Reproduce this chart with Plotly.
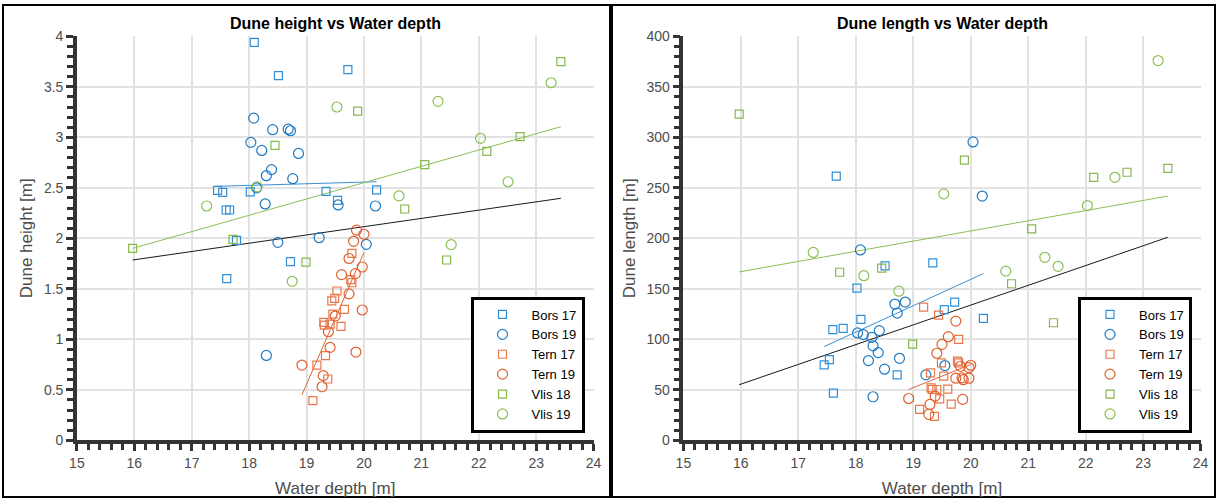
import plotly.graph_objects as go

# ---- survey data: water depth [m], dune height [m], dune length [m] ----
bors17_depth = [18.09, 18.51, 19.72, 17.45, 17.54, 18.02, 19.34, 19.54, 20.22, 17.60, 17.66, 17.78, 18.72, 17.61]
bors17_height = [3.94, 3.61, 3.67, 2.475, 2.455, 2.46, 2.465, 2.376, 2.48, 2.28, 2.28, 1.98, 1.77, 1.60]
bors17_length = [119.7, 172.7, 136.9, 74.7, 79.9, 150.7, 175.7, 129.3, 120.7, 109.5, 261.5, 110.8, 64.8, 46.7]

bors19_depth = [18.08, 18.41, 18.68, 18.72, 18.03, 18.22, 18.86, 18.39, 18.30, 18.76, 18.28, 19.55,
                20.20, 18.50, 19.22, 20.04, 18.30, 18.13]
bors19_height = [3.19, 3.075, 3.08, 3.065, 2.95, 2.87, 2.84, 2.68, 2.62, 2.59, 2.34, 2.33,
                 2.32, 1.96, 2.006, 1.94, 0.84, 2.50]
bors19_length = [188.5, 108.6, 134.9, 126.0, 106.3, 78.9, 136.9, 86.8, 93.5, 81.2, 101.9, 74.0,
                 241.8, 70.4, 64.8, 295.4, 43.1, 104.6]

tern17_depth = [19.79, 19.77, 19.79, 19.53, 19.49, 19.44, 19.66, 19.46, 19.30, 19.31, 19.41, 19.60,
                19.33, 19.18, 19.37, 19.11]
tern17_height = [1.85, 1.59, 1.56, 1.478, 1.406, 1.38, 1.297, 1.25, 1.168, 1.14, 1.15, 1.128,
                 0.838, 0.745, 0.607, 0.392]
tern17_length = [100.0, 78.3, 76.6, 63.5, 76.6, 124.0, 35.8, 41.1, 66.7, 51.9, 50.3, 50.6,
                 50.3, 131.8, 23.7, 30.6]

tern19_depth = [19.87, 20.00, 19.82, 19.74, 19.97, 19.85, 19.61, 19.74, 19.97, 19.50, 19.38, 19.41,
                19.86, 18.92, 19.29, 19.27]
tern19_height = [2.08, 2.04, 1.97, 1.80, 1.716, 1.65, 1.64, 1.45, 1.29, 1.23, 1.075, 0.92,
                 0.874, 0.745, 0.64, 0.53]
tern19_length = [60.0, 74.3, 73.3, 118.0, 72.0, 61.8, 102.6, 61.5, 61.5, 95.0, 43.7, 86.2,
                 40.5, 41.4, 35.5, 25.7]

vlis18_depth = [15.97, 19.89, 18.45, 17.72, 18.99, 23.43, 22.72, 22.14, 21.06, 20.71, 21.44]
vlis18_height = [1.90, 3.26, 2.92, 1.99, 1.765, 3.75, 3.006, 2.86, 2.73, 2.29, 1.785]
vlis18_length = [323.0, 277.5, 170.5, 166.4, 95.3, 269.3, 265.4, 260.4, 209.3, 155.0, 116.4]

vlis19_depth = [19.53, 18.14, 17.26, 20.61, 18.75, 21.29, 22.03, 23.26, 22.51, 21.52]
vlis19_height = [3.30, 2.51, 2.32, 2.42, 1.574, 3.356, 2.99, 3.54, 2.56, 1.937]
vlis19_length = [244.0, 163.0, 186.0, 167.5, 147.6, 181.2, 232.4, 376.0, 260.4, 172.3]

# ---- linear fits (end points) per site and for all data ----
fit_bors_depth = [17.45, 20.22]
fit_bors_height = [2.515, 2.56]
fit_bors_length = [92.8, 165.1]
fit_tern_depth = [18.92, 20.00]
fit_tern_height = [0.45, 1.86]
fit_tern_length = [50.3, 75.0]
fit_vlis_depth = [15.97, 23.43]
fit_vlis_height = [1.90, 3.105]
fit_vlis_length = [166.7, 241.8]
fit_all_depth = [15.97, 23.43]
fit_all_height = [1.785, 2.396]
fit_all_length = [55.0, 201.0]

BLUE_SQ, BLUE_CI = "#3290D8", "#1F7AC4"
ORNG_SQ, ORNG_CI = "#E8784C", "#E0602F"
GRN_SQ, GRN_CI = "#86B84C", "#8CBF55"

series = [
    ("Bors 17", bors17_depth, bors17_height, bors17_length, "square-open", BLUE_SQ, 8),
    ("Bors 19", bors19_depth, bors19_height, bors19_length, "circle-open", BLUE_CI, 10),
    ("Tern 17", tern17_depth, tern17_height, tern17_length, "square-open", ORNG_SQ, 8),
    ("Tern 19", tern19_depth, tern19_height, tern19_length, "circle-open", ORNG_CI, 10),
    ("Vlis 18", vlis18_depth, vlis18_height, vlis18_length, "square-open", GRN_SQ, 8),
    ("Vlis 19", vlis19_depth, vlis19_height, vlis19_length, "circle-open", GRN_CI, 10),
]

fits = [
    (fit_bors_depth, fit_bors_height, fit_bors_length, "#3A8FD6"),
    (fit_tern_depth, fit_tern_height, fit_tern_length, "#E0653A"),
    (fit_vlis_depth, fit_vlis_height, fit_vlis_length, "#8CBF55"),
    (fit_all_depth, fit_all_height, fit_all_length, "#1A1A1A"),
]

FONT = "Liberation Sans, Arial, sans-serif"
W, H = 1217, 500
AXIS_DARK = "#333333"
LABEL_GREY = "#4D4D4D"

fig = go.Figure()

for dx, dh, dl, col in fits:
    fig.add_trace(go.Scatter(x=dx, y=dh, mode="lines", line=dict(color=col, width=1),
                             showlegend=False, hoverinfo="skip", xaxis="x", yaxis="y"))
    fig.add_trace(go.Scatter(x=dx, y=dl, mode="lines", line=dict(color=col, width=1),
                             showlegend=False, hoverinfo="skip", xaxis="x2", yaxis="y2"))

for name, d, h, l, sym, col, size in series:
    mk = dict(symbol=sym, size=size, color=col, line=dict(color=col, width=1.2))
    fig.add_trace(go.Scatter(x=d, y=h, mode="markers", name=name, marker=mk,
                             xaxis="x", yaxis="y", legend="legend"))
    fig.add_trace(go.Scatter(x=d, y=l, mode="markers", name=name, marker=mk,
                             xaxis="x2", yaxis="y2", legend="legend2"))


def xaxis_style(domain, anchor):
    return dict(
        domain=domain, anchor=anchor, range=[15, 24], dtick=1, tick0=15,
        showgrid=True, gridcolor="#E2E2E2", gridwidth=2, zeroline=False,
        showline=True, linecolor=AXIS_DARK, linewidth=3.5,
        ticks="outside", ticklen=7, tickwidth=2.5, tickcolor=AXIS_DARK,
        minor=dict(dtick=0.2, ticks="outside", ticklen=6, tickwidth=2.5,
                   tickcolor=AXIS_DARK, showgrid=False),
        tickfont=dict(family=FONT, size=14, color=LABEL_GREY),
        title=dict(text="Water depth [m]", font=dict(family=FONT, size=17, color=LABEL_GREY),
                   standoff=13),
        automargin=False, fixedrange=True,
    )


def yaxis_style(anchor, rng, dtick, minor_dtick, title):
    return dict(
        domain=[1 - 440.3 / H, 1 - 36.3 / H], anchor=anchor, range=rng, dtick=dtick, tick0=0,
        showgrid=True, gridcolor="#E2E2E2", gridwidth=2, zeroline=False,
        showline=True, linecolor=AXIS_DARK, linewidth=3.5,
        ticks="outside", ticklen=7, tickwidth=2.5, tickcolor=AXIS_DARK,
        minor=dict(dtick=minor_dtick, ticks="outside", ticklen=6, tickwidth=2.5,
                   tickcolor=AXIS_DARK, showgrid=False),
        tickfont=dict(family=FONT, size=14, color=LABEL_GREY),
        title=dict(text=title, font=dict(family=FONT, size=17, color=LABEL_GREY), standoff=8),
        automargin=False, fixedrange=True,
    )


legend_style = dict(
    bgcolor="white", bordercolor="black", borderwidth=3,
    font=dict(family=FONT, size=13, color="black"),
    xanchor="left", yanchor="middle", itemwidth=48, tracegroupgap=0,
)

fig.update_layout(
    width=W, height=H, margin=dict(l=0, r=0, t=0, b=0),
    paper_bgcolor="white", plot_bgcolor="white",
    font=dict(family=FONT),
    xaxis=xaxis_style([76.9 / W, 593.6 / W], "y"),
    yaxis=yaxis_style("x", [0, 4], 0.5, 0.1, "Dune height [m]"),
    xaxis2=xaxis_style([683.4 / W, 1200.6 / W], "y2"),
    yaxis2=yaxis_style("x2", [0, 400], 50, 10, "Dune length [m]"),
    legend=dict(legend_style, x=470.5 / W, y=1 - 364.5 / H),
    legend2=dict(legend_style, x=1078 / W, y=1 - 364.5 / H),
    annotations=[
        dict(text="<b>Dune height vs Water depth</b>", x=(76.9 + 593.6) / 2 / W, y=1 - 23 / H,
             xref="paper", yref="paper", xanchor="center", yanchor="middle", showarrow=False,
             font=dict(family=FONT, size=16, color="black")),
        dict(text="<b>Dune length vs Water depth</b>", x=(683.4 + 1200.6) / 2 / W, y=1 - 23 / H,
             xref="paper", yref="paper", xanchor="center", yanchor="middle", showarrow=False,
             font=dict(family=FONT, size=16, color="black")),
    ],
    shapes=[
        dict(type="rect", xref="paper", yref="paper", x0=3 / W, x1=610 / W,
             y0=1 - 497 / H, y1=1 - 5 / H, line=dict(color="black", width=2)),
        dict(type="rect", xref="paper", yref="paper", x0=612 / W, x1=1215 / W,
             y0=1 - 497 / H, y1=1 - 5 / H, line=dict(color="black", width=2)),
    ],
)

fig.write_html("out.html")
